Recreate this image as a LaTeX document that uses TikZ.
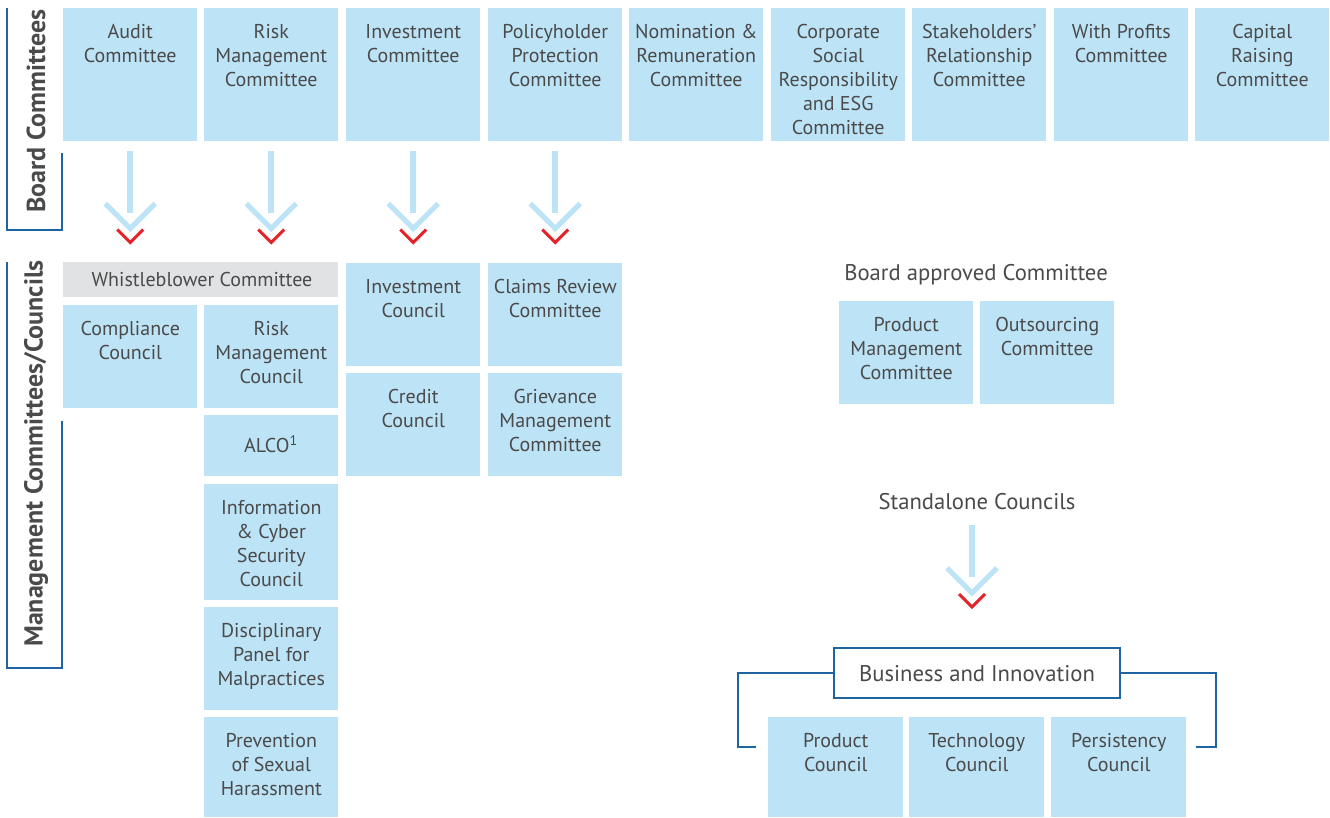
\documentclass[tikz,border=0pt]{standalone}
\usepackage{fontspec}
\setmainfont{PT Sans}
\usetikzlibrary{calc}
\definecolor{lb}{HTML}{BDE3F6}
\definecolor{gr}{HTML}{E1E2E3}
\definecolor{rd}{HTML}{E2232A}
\definecolor{bl}{HTML}{1F63A3}
\definecolor{tx}{HTML}{4A4A4A}
\tikzset{
  cbox/.style={fill=lb, draw=none, inner sep=0, anchor=north west},
  gbox/.style={fill=gr, draw=none, inner sep=0, anchor=north west},
  btxt/.style={font=\fontsize{15}{18}\selectfont, text=tx, align=center, inner sep=0, anchor=north},
  ltxt/.style={font=\fontsize{15}{18}\selectfont, text=tx, inner sep=0, anchor=base},
  htxt/.style={font=\fontsize{17}{20}\selectfont, text=tx, inner sep=0, anchor=base},
  side/.style={font=\fontsize{19.5}{22}\selectfont\bfseries, text=tx, inner sep=0, rotate=90},
  brk/.style={draw=bl, line width=1.1pt},
  stem/.style={draw=lb, line width=4.2pt},
  chev/.style={draw=lb, line width=3.8pt, miter limit=10},
  redchev/.style={draw=rd, line width=2.3pt, miter limit=10},
}
\newcommand\bx[6]{%
  \node[cbox, minimum width={(#4-#2)*0.75pt}, minimum height={(#5-#3)*0.75pt}] (#1) at (#2,#3) {};
  \node[btxt] (#1-t) at ($(#1.north)+(0,13.2)$) {\strut #6};}
\newcommand\darrow[3]{% name of start coordinate, stem length, name prefix
  \draw[stem] (#1) -- ++(0,#2) coordinate (#3-e);
  \draw[chev] ($(#1)+(-25,#2-9)$) coordinate (#3-c1) -- ($(#1)+(0,#2+16)$) coordinate (#3-cv) -- ($(#1)+(25,#2-9)$) coordinate (#3-c2);
  \draw[redchev] ($(#1)+(-13,#2+17)$) coordinate (#3-r1) -- ($(#1)+(0,#2+30)$) coordinate (#3-rv) -- ($(#1)+(13,#2+17)$) coordinate (#3-r2);}
\begin{document}
\begin{tikzpicture}[x=0.75pt, y=-0.75pt]
\useasboundingbox (0,0) rectangle (1330,817);

% ---------- Board committees ----------
\bx{b1}{63}{8}{197}{141}{Audit\\Committee}
\bx{b2}{204}{8}{338}{141}{Risk\\Management\\Committee}
\bx{b3}{346}{8}{480}{141}{Investment\\Committee}
\bx{b4}{488}{8}{622}{141}{Policyholder\\Protection\\Committee}
\bx{b5}{629}{8}{763}{141}{Nomination \&\\Remuneration\\Committee}
\bx{b6}{771}{8}{905}{141}{Corporate\\Social\\Responsibility\\and ESG\\Committee}
\bx{b7}{912}{8}{1046}{141}{Stakeholders’\\Relationship\\Committee}
\bx{b8}{1054}{8}{1188}{141}{With Profits\\Committee}
\bx{b9}{1195}{8}{1329}{141}{Capital\\Raising\\Committee}

% side brackets
\draw[brk] (7,8) -- (7,230) -- (62,230) -- (62,153);
\node[side] (sideb) at (36,111) {Board Committees};
\draw[brk] (7,262) -- (7,668) -- (62,668) -- (62,421);
\node[side] (sidem) at (36,453.5) {Management Committees/Councils};

% arrows
\coordinate (a1) at ($(b1.south)+(0,9)$);
\coordinate (a2) at ($(b2.south)+(0,9)$);
\coordinate (a3) at ($(b3.south)+(0,9)$);
\coordinate (a4) at ($(b4.south)+(0,9)$);
\darrow{a1}{62}{A1}
\darrow{a2}{62}{A2}
\darrow{a3}{62}{A3}
\darrow{a4}{62}{A4}

% ---------- Management committees ----------
\node[gbox, minimum width={275*0.75pt}, minimum height={35*0.75pt}] (wb) at (63,262) {};
\node[ltxt] (wb-t) at (202,286) {Whistleblower Committee};
\bx{m1}{63}{305}{197}{408}{Compliance\\Council}
\bx{m2}{204}{305}{338}{408}{Risk\\Management\\Council}
\node[cbox, minimum width={134*0.75pt}, minimum height={61*0.75pt}] (m3) at (204,415) {};
\node[ltxt] (m3-t) at (271,452.5) {ALCO\textsuperscript{1}};
\bx{m4}{204}{484}{338}{600}{Information\\\& Cyber\\Security\\Council}
\bx{m5}{204}{607}{338}{710}{Disciplinary\\Panel for\\Malpractices}
\bx{m6}{204}{717}{338}{817}{Prevention\\of Sexual\\Harassment}
\bx{m7}{346}{263}{480}{366}{Investment\\Council}
\bx{m8}{346}{373}{480}{476}{Credit\\Council}
\bx{m9}{488}{263}{622}{366}{Claims Review\\Committee}
\bx{m10}{488}{373}{622}{476}{Grievance\\Management\\Committee}

% ---------- Board approved ----------
\node[htxt] (ba) at (976,280) {Board approved Committee};
\bx{p1}{839}{301}{973}{404}{Product\\Management\\Committee}
\bx{p2}{980}{301}{1114}{404}{Outsourcing\\Committee}

% ---------- Standalone ----------
\node[htxt] (sa) at (977,509) {Standalone Councils};
\coordinate (a5) at (972,525);
\darrow{a5}{52}{A5}
\node[draw=bl, line width=1.1pt, fill=white, inner sep=0, minimum width={286*0.75pt}, minimum height={50*0.75pt}] (bi) at (977,673) {};
\node[htxt] (bi-t) at (977,681) {Business and Innovation};
\draw[brk] (bi.west) -- (738,673) -- (738,747) -- (756,747);
\draw[brk] (bi.east) -- (1216,673) -- (1216,747) -- (1196,747);
\bx{s1}{768}{717}{903}{817}{Product\\Council}
\bx{s2}{909}{717}{1044}{817}{Technology\\Council}
\bx{s3}{1051}{717}{1186}{817}{Persistency\\Council}
\end{tikzpicture}
\end{document}
